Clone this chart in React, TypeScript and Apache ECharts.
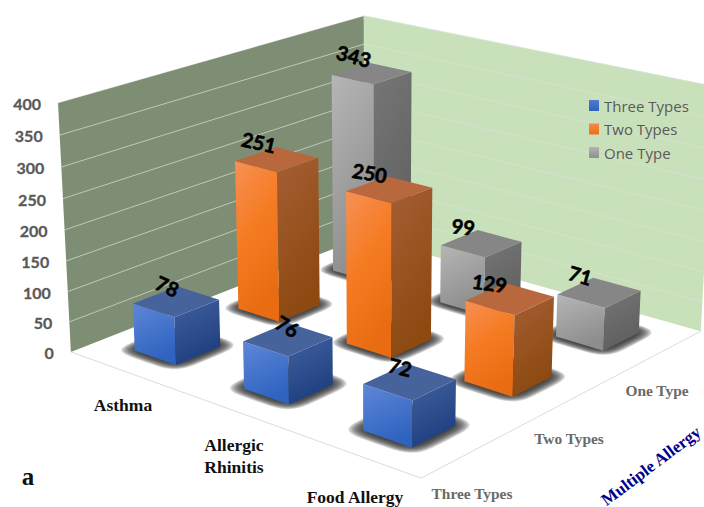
import React, { useEffect, useRef } from "react";
import * as echarts from "echarts";

// Chart content
const categories = ["Asthma", "Allergic\nRhinitis", "Food Allergy"];
const depthNames = ["Three Types", "Two Types", "One Type"];
const threeTypes = [78, 76, 72];
const twoTypes = [251, 250, 129];
const oneType = [343, 99, 71];
const valueTicks = [0, 50, 100, 150, 200, 250, 300, 350, 400];
const depthAxisTitle = "Multiple Allergy";
const panelTag = "a";

// Camera calibration: floor-box coordinates (u, v, h in 0..1) and where they land on screen.
const cameraPairs: number[][] = [
  [0, 0, 0, 71, 351],
  [1, 0, 0, 421, 479],
  [1, 1, 0, 701, 330],
  [0, 1, 0, 364, 238],
  [0, 0, 1, 58, 103],
  [0, 1, 1, 364, 15],
  [1, 1, 1, 714, 87],
];

function solveCamera(pairs: number[][]) {
  const rows: number[][] = [];
  for (const [u, v, h, X, Y] of pairs) {
    rows.push([u, v, h, 1, 0, 0, 0, 0, -X * u, -X * v, -X * h, X]);
    rows.push([0, 0, 0, 0, u, v, h, 1, -Y * u, -Y * v, -Y * h, Y]);
  }
  const n = 11;
  const m = Array.from({ length: n }, (_, i) =>
    Array.from({ length: n + 1 }, (_, j) =>
      rows.reduce((s, r) => s + r[i] * r[j], 0)
    )
  );
  for (let i = 0; i < n; i++) {
    let best = i;
    for (let k = i + 1; k < n; k++) if (Math.abs(m[k][i]) > Math.abs(m[best][i])) best = k;
    [m[i], m[best]] = [m[best], m[i]];
    for (let k = 0; k < n; k++) {
      if (k === i) continue;
      const f = m[k][i] / m[i][i];
      for (let j = i; j <= n; j++) m[k][j] -= f * m[i][j];
    }
  }
  return m.map((r, i) => r[n] / r[i]);
}

const cam = solveCamera(cameraPairs);
function project(u: number, v: number, h: number): [number, number] {
  const w = cam[8] * u + cam[9] * v + cam[10] * h + 1;
  return [
    (cam[0] * u + cam[1] * v + cam[2] * h + cam[3]) / w,
    (cam[4] * u + cam[5] * v + cam[6] * h + cam[7]) / w,
  ];
}

// Bar footprint in floor units
const barU = 0.129;
const barV = 0.139;

// Soft contact shadow, built from stacked translucent rounded footprints
const shadowLayers = [0.036, 0.033, 0.03, 0.027, 0.024, 0.021, 0.018, 0.015, 0.012, 0.009, 0.006, 0.003];
const shadowShift = 0.004;

function roundedFootprint(u: number, v: number, du: number, dv: number): [number, number][] {
  const pts: [number, number][] = [];
  for (let k = 0; k < 40; k++) {
    const t = (k / 40) * Math.PI * 2;
    const c = Math.cos(t);
    const s = Math.sin(t);
    pts.push(project(u + du * Math.sign(c) * Math.abs(c) ** 0.45, v + dv * Math.sign(s) * Math.abs(s) ** 0.45, 0));
  }
  return pts;
}

const grad = (stops: [number, string][], x2 = 0.35, y2 = 1) =>
  new echarts.graphic.LinearGradient(
    0, 0, x2, y2,
    stops.map(([offset, color]) => ({ offset, color }))
  );

const palettes = [
  {
    legend: grad([[0, "#4f7bd0"], [1, "#2f62bb"]], 0, 1),
    front: grad([[0, "#5f87d8"], [1, "#2f63c0"]]),
    side: grad([[0, "#42609e"], [1, "#1e3f80"]]),
    top: "#46639b",
  },
  {
    legend: grad([[0, "#f58a48"], [1, "#ee7018"]], 0, 1),
    front: grad([[0, "#f79055"], [0.5, "#f57b22"], [1, "#e96c12"]]),
    side: grad([[0, "#a55e34"], [1, "#8c4910"]]),
    top: "#b8683c",
  },
  {
    legend: grad([[0, "#b4b4b4"], [1, "#8f8f8f"]], 0, 1),
    front: grad([[0, "#b6b6b6"], [1, "#8d8d8d"]]),
    side: grad([[0, "#767676"], [1, "#5f5f5f"]]),
    top: "#868686",
  },
];

// Value label placement relative to the left-back top edge of each bar: [dx, dy, clockwise degrees]
const labelPlacement: Record<string, [number, number, number]> = {
  "0-0": [12, -9, 24],
  "1-0": [22, -6, 30],
  "2-0": [15, -7, 14],
  "0-1": [3, -12, 13],
  "1-1": [3, -11, 10],
  "2-1": [4, -9, 8],
  "0-2": [3, -13, 15],
  "1-2": [4, -11, 6],
  "2-2": [5, -11, 16],
};

export default function App() {
  const ref = useRef<HTMLDivElement>(null);

  useEffect(() => {
    const chart = echarts.init(ref.current!, undefined, { renderer: "svg" });
    const seriesValues = [threeTypes, twoTypes, oneType];

    // Converts a category position and a value into box units through the hidden cartesian axes.
    const toBox = (params: any, api: any, pos: number, value: number) => {
      const cs = params.coordSys;
      const p = api.coord([pos, value]);
      return [(p[0] - cs.x) / cs.width, (cs.y + cs.height - p[1]) / cs.height];
    };

    const poly = (points: [number, number][], style: any) => ({
      type: "polygon",
      shape: { points },
      style,
      silent: true,
    });

    const wallSeries = {
      type: "custom",
      silent: true,
      z: 1,
      data: [[0, 0]],
      encode: { x: 0, y: 1 },
      renderItem: (params: any, api: any) => {
        const children: any[] = [
          poly([project(0, 0, 0), project(1, 0, 0), project(1, 1, 0), project(0, 1, 0)], { fill: "#ffffff" }),
          poly([project(0, 0, 0), project(0, 1, 0), project(0, 1, 1), project(0, 0, 1)], { fill: "#7e8e74" }),
          poly([project(0, 1, 0), project(1, 1, 0), project(1, 1, 1), project(0, 1, 1)], { fill: "#c9e1ba" }),
        ];
        valueTicks.forEach((t) => {
          const [, h] = toBox(params, api, 0, t);
          const a = project(0, 0, h);
          const b = project(0, 1, h);
          const c = project(1, 1, h);
          if (t > 0) {
            children.push({ type: "line", shape: { x1: a[0], y1: a[1], x2: b[0], y2: b[1] }, style: { stroke: "rgba(255,255,255,0.5)", lineWidth: 1 } });
            children.push({ type: "line", shape: { x1: b[0], y1: b[1], x2: c[0], y2: c[1] }, style: { stroke: "rgba(215,226,218,0.75)", lineWidth: 1 } });
          }
          children.push({
            type: "text",
            style: {
              text: String(t),
              x: a[0] - 17,
              y: a[1] + 0.5,
              align: "right",
              verticalAlign: "middle",
              fill: "#595959",
              stroke: "#595959",
              lineWidth: 0.3,
              font: "bold 16px Lato",
            },
          });
        });
        const e0 = project(0, 0, 0);
        const e1 = project(1, 0, 0);
        const e2 = project(1, 1, 0);
        children.push({ type: "polyline", shape: { points: [e0, e1, e2] }, style: { stroke: "#dcdcdc", lineWidth: 1, fill: "none" } });
        return { type: "group", children };
      },
    };

    const shadowSeries = {
      type: "custom",
      silent: true,
      z: 2,
      data: depthNames.flatMap((_, j) => categories.map((_, i) => [i + 0.5, 0, j])),
      encode: { x: 0, y: 1 },
      renderItem: (params: any, api: any) => {
        const [u0] = toBox(params, api, api.value(0), 0);
        const u = u0 - shadowShift;
        const v = (api.value(2) + 0.5) / 3 + shadowShift;
        return {
          type: "group",
          children: shadowLayers.map((grow) =>
            poly(roundedFootprint(u, v, barU / 2 + grow, barV / 2 + grow), { fill: "rgba(40,40,40,0.17)" })
          ),
        };
      },
    };

    // Drawn back to front: deepest row first.
    const barSeries = [2, 1, 0].map((j) => ({
      type: "custom",
      name: depthNames[j],
      silent: true,
      z: 3,
      itemStyle: { color: palettes[j].legend },
      data: seriesValues[j].map((value, i) => [i + 0.5, value]),
      encode: { x: 0, y: 1 },
      renderItem: (params: any, api: any) => {
        const [u, h] = toBox(params, api, api.value(0), api.value(1));
        const v = (j + 0.5) / 3;
        const u0 = u - barU / 2, u1 = u + barU / 2;
        const v0 = v - barV / 2, v1 = v + barV / 2;
        const pal = palettes[j];
        return {
          type: "group",
          children: [
            poly([project(u0, v0, 0), project(u1, v0, 0), project(u1, v0, h), project(u0, v0, h)], { fill: pal.front }),
            poly([project(u1, v0, 0), project(u1, v1, 0), project(u1, v1, h), project(u1, v0, h)], { fill: pal.side }),
            poly([project(u0, v0, h), project(u1, v0, h), project(u1, v1, h), project(u0, v1, h)], { fill: pal.top }),
          ],
        };
      },
    }));

    const valueLabelSeries = {
      type: "custom",
      silent: true,
      z: 4,
      data: depthNames.flatMap((_, j) => seriesValues[j].map((value, i) => [i + 0.5, value, j])),
      encode: { x: 0, y: 1 },
      renderItem: (params: any, api: any) => {
        const [u, h] = toBox(params, api, api.value(0), api.value(1));
        const j = api.value(2);
        const i = api.value(0) - 0.5;
        const v = (j + 0.5) / 3;
        const anchor = project(u - barU / 2, v, h);
        const [dx, dy, deg] = labelPlacement[`${i}-${j}`];
        return {
          type: "text",
          x: anchor[0] + dx,
          y: anchor[1] + dy,
          rotation: (-deg * Math.PI) / 180,
          style: {
            text: String(api.value(1)),
            x: 0,
            y: 0,
            align: "center",
            verticalAlign: "middle",
            fill: "#000000",
            stroke: "#000000",
            lineWidth: 0.6,
            font: "bold 20px Lato",
          },
        };
      },
    };

    const catAnchors: [number, number][] = [[123, 405], [234, 456], [355, 497]];
    const depthAnchors: [number, number][] = [[472, 493], [569, 438], [657, 390]];
    const serifBold = "bold 17.5px 'Liberation Serif'";

    chart.setOption({
      animation: false,
      backgroundColor: "#ffffff",
      grid: { left: 0, top: 0, right: 0, bottom: 0 },
      xAxis: { type: "value", min: 0, max: 3, show: false },
      yAxis: { type: "value", min: 0, max: 400, interval: 50, show: false },
      legend: {
        orient: "vertical",
        left: 584,
        top: 93,
        itemWidth: 10,
        itemHeight: 11,
        itemGap: 8.5,
        selectedMode: false,
        textStyle: { fontFamily: "Open Sans", fontSize: 15, color: "#595959" },
        data: depthNames.map((name, j) => ({ name, icon: "rect", itemStyle: { color: palettes[j].legend } })),
      },
      graphic: [
        ...categories.map((text, i) => ({
          type: "text",
          x: catAnchors[i][0],
          y: catAnchors[i][1],
          silent: true,
          style: { text, align: "center", verticalAlign: "middle", font: serifBold, fill: "#111111", lineHeight: 22 },
        })),
        ...depthNames.map((text, j) => ({
          type: "text",
          x: depthAnchors[j][0],
          y: depthAnchors[j][1],
          silent: true,
          style: { text, align: "center", verticalAlign: "middle", font: "bold 15.4px 'Liberation Serif'", fill: "#6a6a6a" },
        })),
        {
          type: "text",
          x: 651,
          y: 466,
          rotation: (37 * Math.PI) / 180,
          silent: true,
          style: { text: depthAxisTitle, align: "center", verticalAlign: "middle", font: "bold 17px 'Liberation Serif'", fill: "#00008b" },
        },
        {
          type: "text",
          x: 28,
          y: 476,
          silent: true,
          style: { text: panelTag, align: "center", verticalAlign: "middle", font: "bold 25px 'Liberation Serif'", fill: "#111111" },
        },
      ],
      series: [wallSeries, shadowSeries, ...barSeries, valueLabelSeries],
    });
    return () => chart.dispose();
  }, []);

  return <div ref={ref} style={{ width: 704, height: 507, position: "absolute", left: 0, top: 0 }} />;
}
